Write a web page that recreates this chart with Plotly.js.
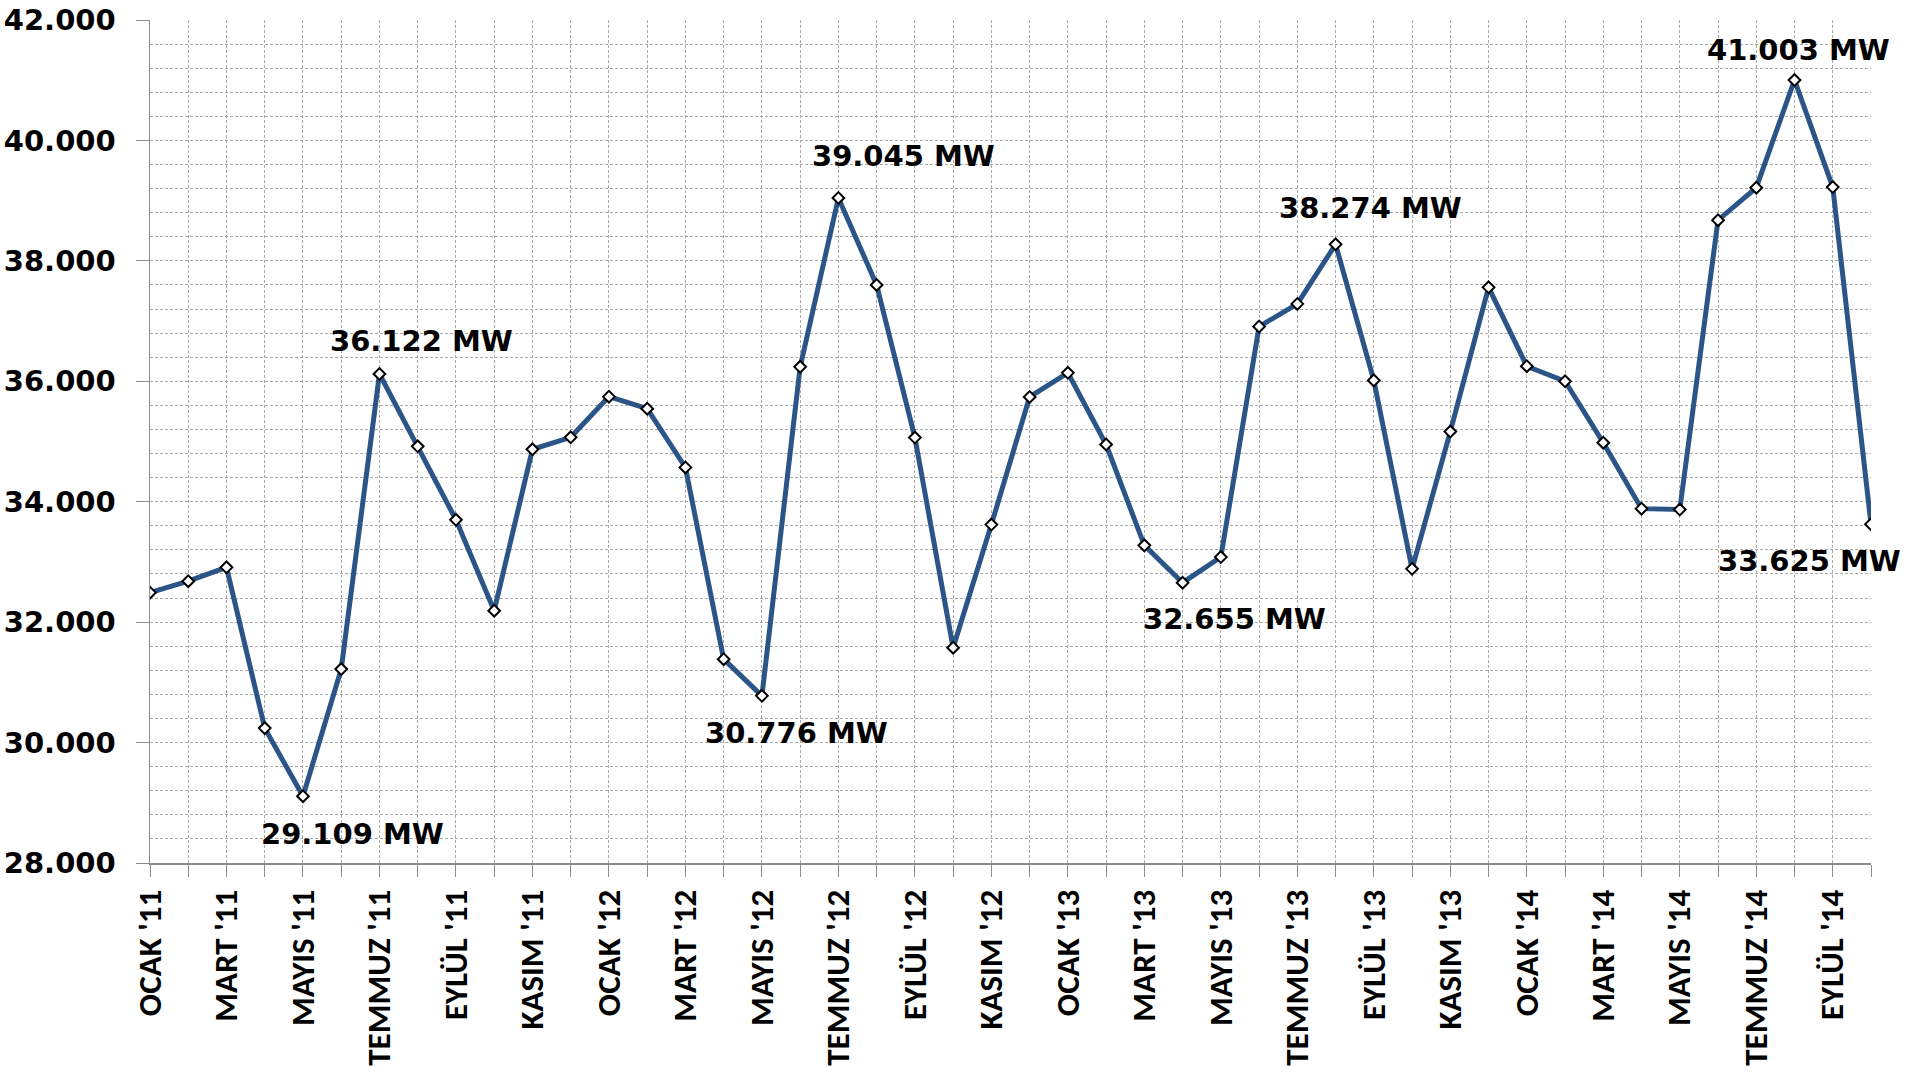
<!DOCTYPE html>
<html>
<head>
<meta charset="utf-8">
<script src="https://cdn.plot.ly/plotly-3.0.1.min.js"></script>
<style>
  html, body { margin: 0; padding: 0; background: #fff; }
  #chart { width: 1915px; height: 1073px; }
</style>
</head>
<body>
<div id="chart"></div>
<script>
// Monthly peak load (MW), Jan 2011 - Oct 2014
const months = ['OCAK', 'ŞUBAT', 'MART', 'NİSAN', 'MAYIS', 'HAZİRAN',
                'TEMMUZ', 'AĞUSTOS', 'EYLÜL', 'EKİM', 'KASIM', 'ARALIK'];
const years = ["'11", "'12", "'13", "'14"];

const peakLoad = [
    32490, 32680, 32910, 30240, 29109, 31220, 36122, 34920, 33700, 32190, 34870, 35070,
    35745, 35545, 34570, 31385, 30776, 36240, 39045, 37600, 35065, 31575, 33620, 35740,
    36140, 34950, 33275, 32655, 33080, 36910, 37285, 38274, 36015, 32885, 35165, 37560,
    36250, 36000, 34980, 33885, 33870, 38675, 39215, 41003, 39225, 33625
];

// labelled points: index into peakLoad, and where the text sits (px offset)
const labelIdx   = [4, 6, 16, 18, 27, 31, 43, 45];
const labelShift = [[50, 38], [42, -33], [35, 37], [65, -42], [52, 36], [35, -36], [4, -30], [-62, 37]];

const categories = [];
years.forEach(y => months.forEach(m => categories.push(m + ' ' + y)));
categories.length = peakLoad.length;

// every other month gets a label
const tickText = categories.map((c, i) => (i % 2 === 0 ? c : ''));

const fmt = v => v.toLocaleString('de-DE') + ' MW';

const trace = {
    x: categories,
    y: peakLoad,
    type: 'scatter',
    mode: 'lines+markers',
    line: { color: '#2b5487', width: 5 },
    marker: {
        symbol: 'diamond',
        size: 9,
        color: '#ffffff',
        line: { color: '#000000', width: 2 }
    },
    hoverinfo: 'skip'
};

const gridColor = '#a9a9a9';

const layout = {
    width: 1915,
    height: 1073,
    margin: { l: 150, r: 44, t: 20, b: 210 },
    paper_bgcolor: '#ffffff',
    plot_bgcolor: '#ffffff',
    showlegend: false,
    separators: ',.',
    xaxis: {
        type: 'category',
        range: [0, categories.length - 1],
        tickmode: 'array',
        tickvals: categories,
        ticktext: tickText,
        tickangle: -90,
        tickfont: { family: 'Carlito, Lato, sans-serif', size: 33, weight: 700, color: '#000' },
        ticks: 'outside',
        ticklen: 12,
        tickcolor: '#8c8c8c',
        showline: true,
        linecolor: '#8c8c8c',
        linewidth: 1.5,
        showgrid: true,
        gridcolor: gridColor,
        griddash: '3px,2px',
        gridwidth: 1,
        zeroline: false,
        fixedrange: true
    },
    yaxis: {
        range: [28000, 42000],
        dtick: 2000,
        tick0: 28000,
        tickformat: ',.0f',
        tickfont: { family: 'DejaVu Sans, Verdana, sans-serif', size: 29, weight: 700, color: '#000' },
        ticks: 'outside',
        ticklen: 13,
        tickcolor: '#8c8c8c',
        ticklabelstandoff: 14,
        showline: true,
        linecolor: '#8c8c8c',
        linewidth: 1.5,
        showgrid: true,
        gridcolor: gridColor,
        griddash: '3px,2px',
        gridwidth: 1,
        minor: {
            dtick: 400,
            showgrid: true,
            gridcolor: gridColor,
            griddash: '3px,2px',
            gridwidth: 1
        },
        zeroline: false,
        fixedrange: true
    },
    annotations: labelIdx.map((idx, i) => ({
        x: categories[idx],
        y: peakLoad[idx],
        xref: 'x',
        yref: 'y',
        text: fmt(peakLoad[idx]),
        showarrow: false,
        xshift: labelShift[i][0],
        yshift: -labelShift[i][1],
        font: { family: 'DejaVu Sans, Verdana, sans-serif', size: 29, weight: 700, color: '#000' }
    }))
};

Plotly.newPlot('chart', [trace], layout, { displayModeBar: false, staticPlot: true });
</script>
</body>
</html>
